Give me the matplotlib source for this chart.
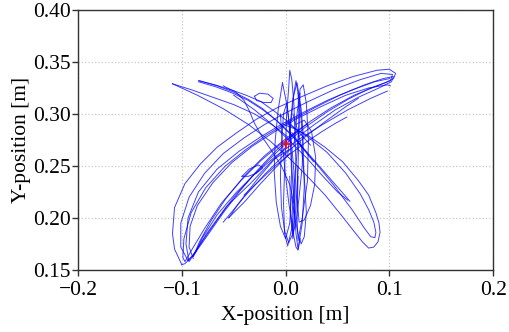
import matplotlib
matplotlib.use("Agg")
import matplotlib.pyplot as plt

plt.rcParams['font.family'] = ['Liberation Serif', 'DejaVu Serif']

# start position of the end effector
start_x = [0.000]
start_y = [0.271]

# loops of the lower-left / upper-right arm
ne1_x = [-0.100, -0.107, -0.109, -0.107, -0.097, -0.082, -0.066, -0.047, -0.028, -0.008, 0.014, 0.040, 0.065,
         0.088, 0.100, 0.106, 0.104, 0.096, 0.080, 0.060, 0.040, 0.020, 0.002, -0.014, -0.032, -0.050, -0.066,
         -0.080, -0.090, -0.097, -0.100]
ne1_y = [0.155, 0.170, 0.185, 0.210, 0.233, 0.252, 0.268, 0.282, 0.295, 0.306, 0.316, 0.327, 0.336,
         0.342, 0.343, 0.339, 0.334, 0.330, 0.324, 0.314, 0.302, 0.288, 0.273, 0.258, 0.240, 0.220, 0.198,
         0.178, 0.163, 0.156, 0.155]

ne2_x = [-0.094, -0.101, -0.101, -0.093, -0.078, -0.060, -0.040, -0.020, 0.000, 0.022, 0.048, 0.072, 0.092,
         0.103, 0.101, 0.088, 0.066, 0.044, 0.024, 0.006, -0.010, -0.027, -0.044, -0.060, -0.074, -0.086, -0.094]
ne2_y = [0.159, 0.172, 0.195, 0.220, 0.243, 0.262, 0.277, 0.290, 0.301, 0.312, 0.324, 0.333, 0.339,
         0.338, 0.332, 0.327, 0.318, 0.306, 0.293, 0.279, 0.264, 0.246, 0.226, 0.205, 0.185, 0.168, 0.159]

ne3_x = [-0.089, -0.093, -0.092, -0.085, -0.070, -0.052, -0.032, -0.012, 0.010, 0.034, 0.058, 0.080, 0.098, 0.101]
ne3_y = [0.161, 0.172, 0.192, 0.212, 0.234, 0.253, 0.269, 0.282, 0.295, 0.307, 0.318, 0.325, 0.328, 0.327]

ne4_x = [0.004, -0.012, -0.034, -0.057, -0.076, -0.089, -0.093, -0.096, -0.094, -0.084, -0.066, -0.045, -0.024,
         -0.004, 0.018, 0.040, 0.064, 0.086, 0.100]
ne4_y = [0.266, 0.256, 0.233, 0.211, 0.185, 0.164, 0.158, 0.175, 0.200, 0.225, 0.247, 0.264, 0.278,
         0.290, 0.302, 0.313, 0.323, 0.331, 0.334]

ne5_x = [0.012, -0.006, -0.024, -0.043, -0.062, -0.078, -0.090, -0.097, -0.099, -0.098, -0.091, -0.077, -0.058,
         -0.038, -0.018, 0.004, 0.028, 0.052, 0.076, 0.094, 0.104, 0.102, 0.090, 0.070, 0.048, 0.028, 0.012]
ne5_y = [0.283, 0.270, 0.255, 0.236, 0.214, 0.190, 0.170, 0.158, 0.162, 0.180, 0.205, 0.229, 0.250,
         0.266, 0.280, 0.293, 0.306, 0.318, 0.328, 0.334, 0.336, 0.331, 0.325, 0.316, 0.304, 0.290, 0.278]

ne6_x = [0.020, 0.000, -0.020, -0.040, -0.058, -0.072, -0.083, -0.089, -0.087, -0.080, -0.066, -0.048, -0.030,
         -0.010, 0.012, 0.036, 0.060, 0.082, 0.098]
ne6_y = [0.290, 0.276, 0.260, 0.240, 0.218, 0.197, 0.177, 0.163, 0.166, 0.181, 0.203, 0.224, 0.242,
         0.259, 0.275, 0.290, 0.304, 0.315, 0.322]

ne_short_x = [-0.040, -0.025, -0.010, 0.005, 0.020, 0.035, 0.048, 0.059]
ne_short_y = [0.222, 0.236, 0.250, 0.262, 0.273, 0.283, 0.291, 0.297]

ne_mid_x = [-0.060, -0.040, -0.020, 0.000, 0.020, 0.040, 0.058, 0.070]
ne_mid_y = [0.196, 0.220, 0.242, 0.262, 0.279, 0.294, 0.307, 0.315]

sw_small_x = [0.004, -0.010, -0.025, -0.040, -0.050, -0.054, -0.055, -0.052, -0.046, -0.036, -0.025, -0.012, 0.000]
sw_small_y = [0.262, 0.248, 0.232, 0.215, 0.205, 0.201, 0.200, 0.204, 0.213, 0.226, 0.240, 0.255, 0.268]

sw_tiny_x = [-0.042, -0.035, -0.026, -0.022, -0.028, -0.036, -0.042]
sw_tiny_y = [0.240, 0.247, 0.251, 0.248, 0.243, 0.240, 0.240]

# upper-left / lower-right arm
se1_x = [-0.109, -0.085, -0.060, -0.036, -0.015, 0.003, 0.020, 0.038, 0.055, 0.066, 0.074, 0.080, 0.085, 0.089,
         0.091, 0.090, 0.087, 0.080, 0.070, 0.055, 0.038, 0.022, 0.008, -0.002]
se1_y = [0.329, 0.318, 0.305, 0.290, 0.274, 0.258, 0.241, 0.222, 0.201, 0.187, 0.177, 0.171, 0.172, 0.177,
         0.186, 0.195, 0.205, 0.222, 0.236, 0.254, 0.268, 0.279, 0.286, 0.290]

nw1_x = [-0.109, -0.090, -0.070, -0.050, -0.030, -0.012, 0.002]
nw1_y = [0.329, 0.323, 0.316, 0.309, 0.300, 0.289, 0.278]

nw2_x = [-0.084, -0.068, -0.052, -0.038, -0.024, -0.010, 0.003, 0.014, 0.024]
nw2_y = [0.332, 0.328, 0.323, 0.318, 0.312, 0.302, 0.292, 0.281, 0.270]

nw3_x = [-0.084, -0.067, -0.051, -0.036, -0.022, -0.009, 0.004, 0.016]
nw3_y = [0.331, 0.326, 0.320, 0.313, 0.304, 0.294, 0.282, 0.268]

se2_x = [-0.083, -0.066, -0.050, -0.036, -0.022, -0.008, 0.006, 0.020, 0.034, 0.048, 0.062]
se2_y = [0.332, 0.327, 0.321, 0.314, 0.305, 0.293, 0.279, 0.264, 0.248, 0.232, 0.216]

se3_x = [-0.050, -0.030, -0.012, 0.004, 0.020, 0.036, 0.050, 0.060]
se3_y = [0.318, 0.304, 0.289, 0.274, 0.258, 0.240, 0.225, 0.217]

se4_x = [0.000, 0.020, 0.040, 0.058, 0.072, 0.080, 0.085, 0.087, 0.086, 0.082, 0.076, 0.064, 0.046, 0.028, 0.012]
se4_y = [0.292, 0.279, 0.263, 0.243, 0.223, 0.208, 0.196, 0.186, 0.181, 0.182, 0.190, 0.208, 0.232, 0.254, 0.272]

se5_x = [0.006, 0.016, 0.022, 0.027]
se5_y = [0.282, 0.268, 0.260, 0.254]

nw_drop_x = [-0.060, -0.048, -0.040, -0.035, -0.030, -0.022, -0.013, -0.004, 0.004, 0.008]
nw_drop_y = [0.327, 0.321, 0.313, 0.303, 0.291, 0.277, 0.264, 0.250, 0.232, 0.214]

nw_ring_x = [-0.030, -0.025, -0.017, -0.012, -0.014, -0.021, -0.028, -0.030]
nw_ring_y = [0.317, 0.320, 0.319, 0.315, 0.311, 0.311, 0.313, 0.317]

# vertical (up/down) motions
v1_x = [0.000, 0.001, 0.003, 0.004, 0.006, 0.008, 0.009, 0.010, 0.009, 0.006, 0.002, -0.001, -0.002, -0.001, 0.000]
v1_y = [0.270, 0.300, 0.325, 0.342, 0.333, 0.310, 0.280, 0.250, 0.220, 0.190, 0.173, 0.185, 0.215, 0.245, 0.270]

v2_x = [0.004, 0.007, 0.011, 0.013, 0.015, 0.017, 0.018, 0.016, 0.012, 0.010, 0.008, 0.006, 0.004]
v2_y = [0.285, 0.315, 0.330, 0.318, 0.295, 0.265, 0.230, 0.195, 0.170, 0.185, 0.215, 0.250, 0.285]

v3_x = [0.010, 0.018, 0.025, 0.029, 0.028, 0.024, 0.018, 0.013, 0.011, 0.012]
v3_y = [0.290, 0.294, 0.283, 0.258, 0.232, 0.212, 0.198, 0.196, 0.220, 0.250]

v4_x = [-0.003, -0.007, -0.010, -0.011, -0.009, -0.005, 0.000, 0.004, 0.006, 0.005, 0.002, -0.003]
v4_y = [0.330, 0.305, 0.275, 0.245, 0.215, 0.192, 0.180, 0.195, 0.230, 0.270, 0.305, 0.330]

v5_x = [0.002, 0.005, 0.008, 0.010, 0.012, 0.013, 0.012, 0.010, 0.007, 0.005, 0.004]
v5_y = [0.260, 0.290, 0.320, 0.332, 0.320, 0.290, 0.250, 0.210, 0.180, 0.200, 0.240]

v6_x = [0.008, 0.011, 0.014, 0.017, 0.020, 0.022, 0.021, 0.016, 0.012, 0.011, 0.012]
v6_y = [0.270, 0.300, 0.324, 0.328, 0.310, 0.275, 0.235, 0.200, 0.178, 0.200, 0.240]

v7_x = [-0.005, -0.003, 0.000, 0.003, 0.006, 0.008, 0.010, 0.012, 0.014]
v7_y = [0.300, 0.270, 0.240, 0.215, 0.195, 0.182, 0.172, 0.169, 0.180]

v8_x = [0.006, 0.009, 0.012, 0.015, 0.018, 0.020, 0.018, 0.015, 0.010, 0.007]
v8_y = [0.220, 0.200, 0.185, 0.175, 0.182, 0.205, 0.240, 0.270, 0.290, 0.300]

v9_x = [-0.002, -0.004, -0.005, -0.004, -0.001, 0.003, 0.007, 0.009, 0.008, 0.005, 0.001, -0.002]
v9_y = [0.300, 0.270, 0.240, 0.210, 0.188, 0.176, 0.185, 0.210, 0.245, 0.280, 0.310, 0.300]

v10_x = [0.012, 0.015, 0.017, 0.016, 0.013, 0.010, 0.007, 0.006, 0.008, 0.011, 0.013, 0.014]
v10_y = [0.320, 0.305, 0.280, 0.250, 0.220, 0.195, 0.185, 0.200, 0.230, 0.262, 0.292, 0.320]

paths = [(ne1_x, ne1_y), (ne2_x, ne2_y), (ne3_x, ne3_y), (ne4_x, ne4_y), (ne5_x, ne5_y), (ne6_x, ne6_y),
         (ne_short_x, ne_short_y), (ne_mid_x, ne_mid_y), (sw_small_x, sw_small_y), (sw_tiny_x, sw_tiny_y),
         (se1_x, se1_y), (nw1_x, nw1_y), (nw2_x, nw2_y), (nw3_x, nw3_y), (se2_x, se2_y), (se3_x, se3_y),
         (se4_x, se4_y), (se5_x, se5_y), (nw_drop_x, nw_drop_y), (nw_ring_x, nw_ring_y),
         (v1_x, v1_y), (v2_x, v2_y), (v3_x, v3_y), (v4_x, v4_y), (v5_x, v5_y), (v6_x, v6_y),
         (v7_x, v7_y), (v8_x, v8_y), (v9_x, v9_y), (v10_x, v10_y)]

fig = plt.figure(figsize=(5.1, 3.32), dpi=100)
ax = fig.add_axes([0.153, 0.187, 0.814, 0.783])

for px, py in paths:
    ax.plot(px, py, color='#0000ff', lw=0.7, alpha=0.75)
ax.plot(start_x, start_y, '+', color='red', ms=7, mew=1.2)

ax.set_xlim(-0.2, 0.2)
ax.set_ylim(0.15, 0.40)
ax.set_xticks([-0.2, -0.1, 0.0, 0.1, 0.2])
ax.set_yticks([0.15, 0.20, 0.25, 0.30, 0.35, 0.40])
ax.set_xticklabels(['\u22120.2', '\u22120.1', '0.0', '0.1', '0.2'])
ax.set_yticklabels(['0.15', '0.20', '0.25', '0.30', '0.35', '0.40'])
ax.grid(True, color='#c8c8c8', linestyle=':', linewidth=0.9)
ax.set_axisbelow(True)
ax.tick_params(labelsize=15.5, length=4, width=1, color='#333333', pad=1)
ax.tick_params(axis='x', pad=4)
for s in ax.spines.values():
    s.set_color('#333333')
    s.set_linewidth(1.0)
ax.set_xlabel('X-position [m]', fontsize=15.5, labelpad=4)
ax.set_ylabel('Y-position [m]', fontsize=15.5, labelpad=2)

fig.savefig('out.png', dpi=100)
